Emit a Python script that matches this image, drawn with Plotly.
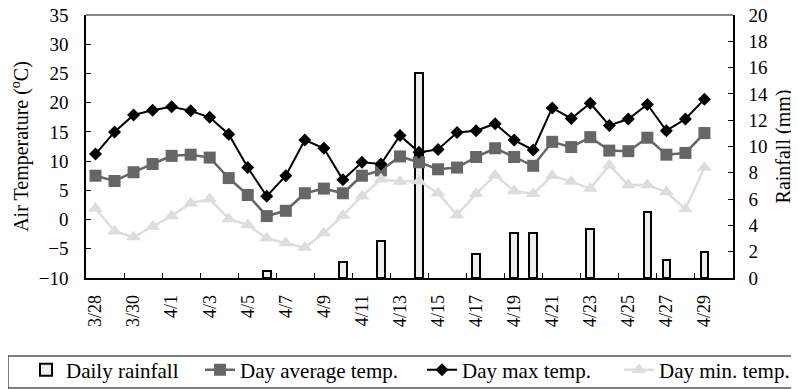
import plotly.graph_objects as go

dates = ["3/28", "3/29", "3/30", "3/31", "4/1", "4/2", "4/3", "4/4", "4/5", "4/6",
         "4/7", "4/8", "4/9", "4/10", "4/11", "4/12", "4/13", "4/14", "4/15", "4/16",
         "4/17", "4/18", "4/19", "4/20", "4/21", "4/22", "4/23", "4/24", "4/25", "4/26",
         "4/27", "4/28", "4/29", "4/30"]

rainfall = [0, 0, 0, 0, 0, 0, 0, 0, 0, 0.5,
            0, 0, 0, 1.2, 0, 2.8, 0, 15.6, 0, 0,
            1.8, 0, 3.4, 3.4, 0, 0, 3.7, 0, 0, 5.0,
            1.4, 0, 2.0]

t_avg = [7.5, 6.6, 8.1, 9.5, 10.9, 11.1, 10.6, 7.1, 4.2, 0.6,
         1.5, 4.5, 5.3, 4.5, 7.5, 8.4, 10.8, 9.8, 8.6, 8.9,
         10.7, 12.2, 10.7, 9.2, 13.3, 12.4, 14.1, 11.8, 11.7, 14.0,
         11.1, 11.4, 14.8]

t_max = [11.2, 15.0, 17.9, 18.7, 19.3, 18.6, 17.5, 14.6, 8.9, 4.0,
         7.5, 13.6, 12.2, 6.8, 9.8, 9.5, 14.4, 11.5, 12.0, 14.9,
         15.2, 16.4, 13.6, 11.9, 19.1, 17.3, 19.9, 16.1, 17.2, 19.7,
         15.2, 17.2, 20.6]

t_min = [1.9, -2.0, -3.0, -1.2, 0.6, 2.8, 3.5, 0.1, -0.9, -3.2,
         -4.0, -4.8, -2.3, 0.7, 4.0, 6.9, 6.5, 6.6, 4.5, 0.8,
         4.4, 7.6, 4.9, 4.4, 7.5, 6.5, 5.3, 9.3, 5.9, 5.9,
         4.7, 1.8, 8.9]

idx = list(range(len(dates)))
tick_idx = idx[::2]
tick_txt = dates[::2]
boundaries = [i + 1.5 for i in idx[::2]][:-1]

FONT = "Liberation Serif"

fig = go.Figure()
fig.add_trace(go.Bar(
    x=idx[:len(rainfall)], y=[r if r > 0 else None for r in rainfall],
    name="Daily rainfall", yaxis="y", width=0.4, legend="legend",
    marker=dict(color="#eeeeee", line=dict(color="#000000", width=2)),
))
fig.add_trace(go.Scatter(
    x=idx[:len(t_avg)], y=t_avg, name="Day average temp.", yaxis="y2",
    mode="lines+markers", legend="legend2",
    line=dict(color="#666666", width=2.5),
    marker=dict(symbol="square", size=12, color="#666666"),
))
fig.add_trace(go.Scatter(
    x=idx[:len(t_max)], y=t_max, name="Day max temp.", yaxis="y2",
    mode="lines+markers", legend="legend3",
    line=dict(color="#000000", width=2),
    marker=dict(symbol="diamond", size=10, color="#000000"),
))
fig.add_trace(go.Scatter(
    x=idx[:len(t_min)], y=t_min, name="Day min. temp.", yaxis="y2",
    mode="lines+markers", legend="legend4",
    line=dict(color="#dddddd", width=2.5),
    marker=dict(symbol="triangle-up", size=13, color="#dddddd"),
))

# page body adds an 8px offset; figure is sized so the visible result matches
W, H = 791, 381
ML, MR, MT, MB = 78, 66, 7, 111
PW, PH = W - ML - MR, H - MT - MB


def px_x(v):
    return (v - ML) / PW


def px_y(v):
    return (H - MB - v) / PH


def leg(xpix):
    return dict(orientation="h", x=px_x(xpix), xanchor="left",
                y=px_y(362), yanchor="middle",
                borderwidth=0, bgcolor="rgba(0,0,0,0)",
                font=dict(family=FONT, size=21))


fig.update_layout(
    width=W, height=H,
    margin=dict(l=ML, r=MR, t=MT, b=MB, autoexpand=False),
    paper_bgcolor="white", plot_bgcolor="white",
    font=dict(family=FONT, size=19, color="#000000"),
    showlegend=True,
    bargap=0,
    xaxis=dict(
        range=[-0.5, len(dates) - 0.5],
        tickmode="array", tickvals=tick_idx, ticktext=tick_txt,
        tickangle=-90, ticks="", tickfont=dict(family=FONT, size=18),
        ticklabelstandoff=8, automargin=False, ticklabeloverflow="allow",
        showline=True, linecolor="#000000", linewidth=1.5,
        showgrid=False, zeroline=False,
        minor=dict(tickmode="array", tickvals=boundaries, ticks="inside",
                   ticklen=5, tickcolor="#000000", tickwidth=1, showgrid=False),
    ),
    yaxis=dict(
        side="right", range=[0, 20], dtick=2, tick0=0,
        ticks="inside", ticklen=5, tickcolor="#000000",
        tickfont=dict(family=FONT, size=19), ticklabeloverflow="allow",
        showline=True, linecolor="#000000", linewidth=1.5,
        showgrid=False, zeroline=False, automargin=False,
        ticklabelstandoff=10,
        title=dict(text="Rainfall (mm)", font=dict(family=FONT, size=20), standoff=9),
    ),
    yaxis2=dict(
        side="left", overlaying="y", range=[-10, 35], dtick=5, tick0=-10,
        ticks="inside", ticklen=5, tickcolor="#000000",
        tickfont=dict(family=FONT, size=19), ticklabeloverflow="allow",
        showline=True, linecolor="#000000", linewidth=1.5,
        showgrid=False, zeroline=False, automargin=False,
        ticklabelstandoff=12,
        title=dict(text="Air Temperature (<sup>o</sup>C)", font=dict(family=FONT, size=20), standoff=10),
    ),
    legend=leg(18),
    legend2=leg(192),
    legend3=leg(414),
    legend4=leg(611),
    shapes=[
        dict(type="line", xref="paper", yref="paper", x0=0, x1=1, y0=1, y1=1,
             line=dict(color="#888888", width=2)),
        dict(type="rect", xref="paper", yref="paper",
             x0=px_x(0), x1=px_x(789), y0=px_y(380), y1=px_y(348),
             line=dict(color="#000000", width=1), fillcolor="rgba(0,0,0,0)"),
    ],
)

fig.write_html("out.html")
